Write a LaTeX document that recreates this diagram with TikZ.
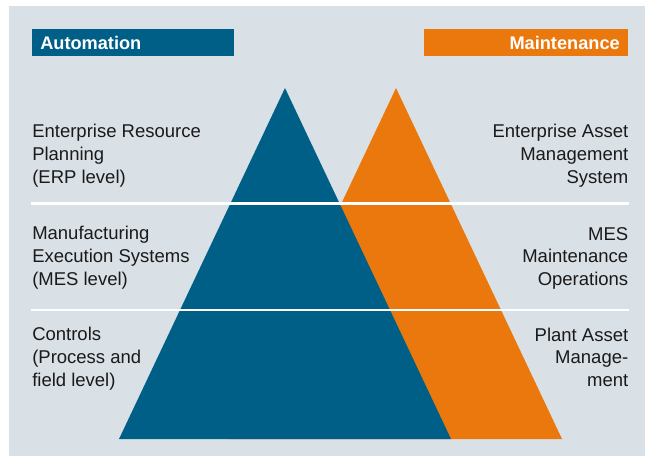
\documentclass[tikz,border=0pt]{standalone}
\usepackage{fontspec}
\setmainfont{Liberation Sans}
\usepackage{xcolor}
\usepackage{tikz}
\usetikzlibrary{positioning}

\definecolor{autoblue}{RGB}{0,95,135}
\definecolor{maintorange}{RGB}{235,120,12}
\definecolor{panelgray}{RGB}{217,224,230}
\definecolor{labelink}{RGB}{26,26,26}

\begin{document}
\begin{tikzpicture}[x=1pt,y=-1pt,line width=0.5pt,
    levellabel/.style={inner sep=0pt,text=labelink,font=\fontsize{18.5}{22.7}\selectfont},
    headbox/.style={minimum height=27pt,inner ysep=0pt,text=white,font=\bfseries\fontsize{18.2}{20}\selectfont}]
    \useasboundingbox (0,0) rectangle (645,456);
    \fill[panelgray] (9,6) rectangle (645,456);
    % headers
    \node (automation) [headbox,fill=autoblue,anchor=north west,inner xsep=8pt,text width=186pt,align=left] at (32,29) {Automation};
    \node (maintenance) [headbox,fill=maintorange,anchor=north east,inner xsep=8.5pt,text width=187.5pt,align=right] at (628.5,29) {Maintenance};
    % pyramids
    \fill[maintorange] (396,88) -- (562,439) -- (230,439) -- cycle;
    \fill[autoblue] (285,88) -- (451,439) -- (119,439) -- cycle;
    \draw[white,line width=2.5pt] (31,203.5) -- (629,203.5);
    \draw[white,line width=2.5pt] (31,310) -- (629,310);
    % levels, automation side (base = last line)
    \node (erp) [levellabel,anchor=base west,align=left] at (32,183) {Enterprise Resource\\Planning\\(ERP level)};
    \node (mes) [levellabel,anchor=base west,align=left] at (32,285) {Manufacturing\\Execution Systems\\(MES level)};
    \node (controls) [levellabel,anchor=base west,align=left] at (32,386) {Controls\\(Process and\\field level)};
    % levels, maintenance side
    \node (eam) [levellabel,anchor=base east,align=right] at (628.5,183) {Enterprise Asset\\Management\\System};
    \node (mesmaint) [levellabel,anchor=base east,align=right] at (628.5,285.5) {MES\\Maintenance\\Operations};
    \node (pam) [levellabel,anchor=base east,align=right] at (628.5,386.5) {Plant Asset\\Manage-\\ment};
\end{tikzpicture}
\end{document}
